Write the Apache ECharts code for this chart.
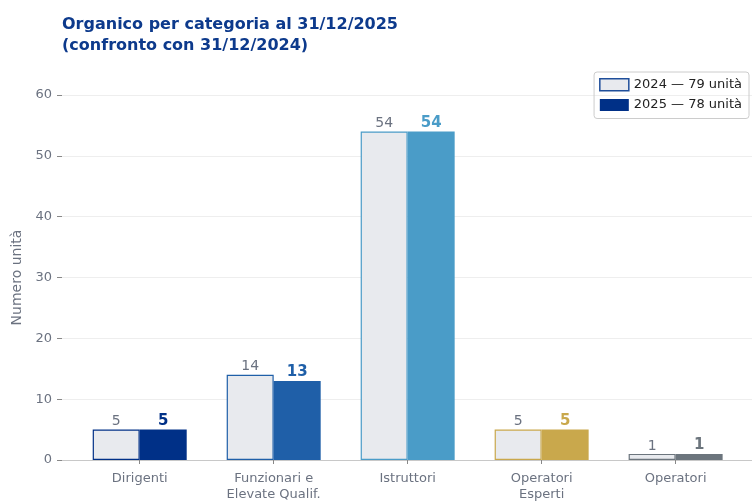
<!DOCTYPE html>
<html>
<head>
<meta charset="utf-8">
<script src="https://cdn.jsdelivr.net/npm/echarts@6/dist/echarts.min.js"></script>
<style>
  html, body { margin: 0; padding: 0; background: #fff; }
  #chart { width: 752px; height: 503px; }
</style>
</head>
<body>
<div id="chart"></div>
<script>
const categories = ['Dirigenti', 'Funzionari e\nElevate Qualif.', 'Istruttori', 'Operatori\nEsperti', 'Operatori'];
const values2024 = [5, 14, 54, 5, 1];
const values2025 = [5, 13, 54, 5, 1];
const catColors = ['#003087', '#1f5fa8', '#4a9cc8', '#c9a84c', '#6c757d'];
const legendNames = ['2024 — 79 unità', '2025 — 78 unità'];

const font = '"DejaVu Sans"';
const grey = '#6b7280';

const option = {
  animation: false,
  textStyle: { fontFamily: font },
  title: {
    text: 'Organico per categoria al 31/12/2025\n(confronto con 31/12/2024)',
    left: 57,
    top: 9,
    textStyle: { fontFamily: font, fontSize: 16, fontWeight: 'bold', color: '#0d3a8c', lineHeight: 21 },
  },
  legend: {
    orient: 'vertical',
    right: 3,
    top: 72,
    padding: [6, 7, 7, 5],
    icon: 'rect',
    itemWidth: 29,
    itemHeight: 12,
    itemGap: 7,
    borderColor: '#cccccc',
    borderWidth: 1,
    borderRadius: 3,
    textStyle: { fontFamily: font, fontSize: 13, color: '#222' },
    data: [
      { name: legendNames[0], itemStyle: { color: '#e8eaee', borderColor: '#1f4e9a', borderWidth: 1.5 } },
      { name: legendNames[1], itemStyle: { color: '#003087' } },
    ],
  },
  grid: { left: 62, right: 0, top: 95, bottom: 42 },
  xAxis: {
    type: 'value',
    min: -0.58,
    max: 4.57,
    splitLine: { show: false },
    axisLine: { show: true, onZero: false, lineStyle: { color: '#c8c8c8', width: 1.2 } },
    axisTick: { show: true, customValues: [0, 1, 2, 3, 4], length: 4, lineStyle: { color: '#888' } },
    axisLabel: {
      customValues: [0, 1, 2, 3, 4],
      formatter: (v) => categories[Math.round(v)],
      color: grey,
      fontFamily: font,
      fontSize: 13,
      lineHeight: 16,
      margin: 11,
    },
  },
  yAxis: {
    type: 'value',
    min: 0,
    max: 60,
    interval: 10,
    name: 'Numero unità',
    nameLocation: 'middle',
    nameGap: 37,
    nameTextStyle: { color: grey, fontSize: 14, fontFamily: font },
    axisLine: { show: false, onZero: false },
    axisTick: { show: true, inside: false, length: 5, lineStyle: { color: '#888' } },
    axisLabel: { color: grey, fontFamily: font, fontSize: 13, margin: 10 },
    splitLine: { lineStyle: { color: '#eeeeee' } },
  },
  series: [
    {
      name: legendNames[0],
      type: 'bar',
      barWidth: 47,
      barGap: '0%',
      itemStyle: { color: '#e8eaee', borderColor: '#1f4e9a', borderWidth: 1.2 },
      label: { show: true, position: 'top', distance: 1, color: grey, fontFamily: font, fontSize: 14 },
      data: values2024.map((v, i) => ({
        value: [i, v],
        itemStyle: { color: '#e8eaee', borderColor: catColors[i], borderWidth: 1.2 },
      })),
    },
    {
      name: legendNames[1],
      type: 'bar',
      barWidth: 47,
      barGap: '0%',
      itemStyle: { color: '#003087' },
      label: { show: true, position: 'top', distance: 1, fontFamily: font, fontSize: 15, fontWeight: 'bold' },
      data: values2025.map((v, i) => ({
        value: [i, v],
        itemStyle: { color: catColors[i] },
        label: { color: catColors[i] },
      })),
    },
  ],
};

const chart = echarts.init(document.getElementById('chart'));
chart.setOption(option);
</script>
</body>
</html>
